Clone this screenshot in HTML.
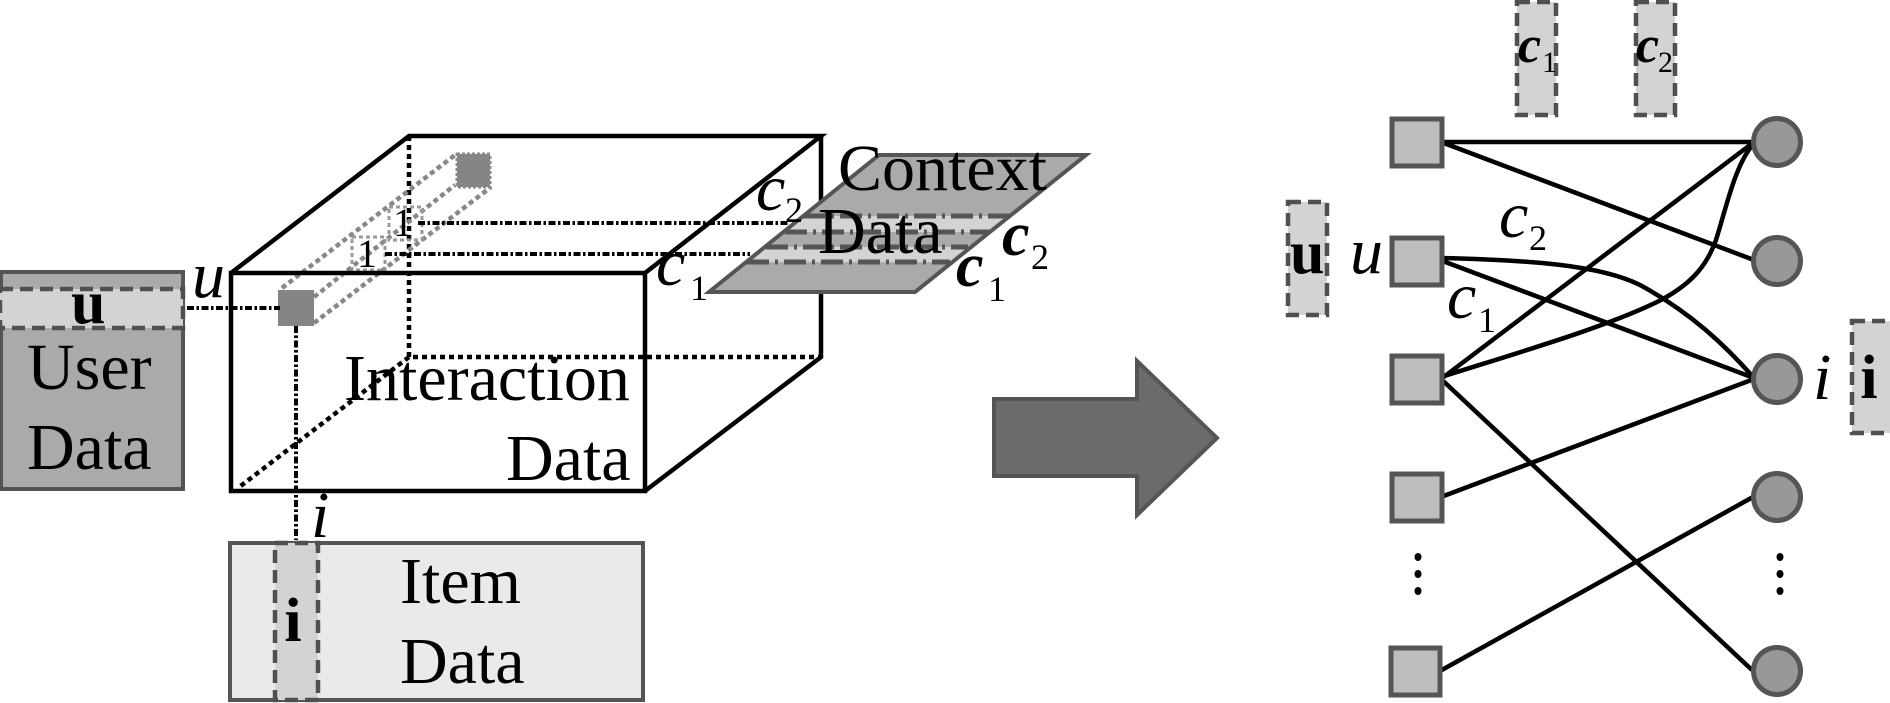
<!DOCTYPE html>
<html>
<head>
<meta charset="utf-8">
<style>
html,body{margin:0;padding:0;background:#fff;width:1890px;height:703px;overflow:hidden}
svg{display:block;filter:blur(0.3px)}
text{font-family:"Liberation Serif",serif;fill:#000}
.t{font-size:66px}
.i{font-style:italic;font-size:66px}
.s{font-size:36px}
.b{font-weight:bold;font-size:62px}
.bi{font-weight:bold;font-style:italic;font-size:62px}
.d{stroke:#505050;stroke-width:4.5;stroke-dasharray:13 7;fill:#d3d3d3}
.dd{stroke:#000;stroke-width:4;fill:none;stroke-dasharray:7 2.5 2.5 2.5}
.bd{stroke:#000;stroke-width:4.5;fill:none;stroke-dasharray:5 4}
.gd{stroke:#888;stroke-width:4.5;fill:none;stroke-dasharray:5 3.5}
.k{stroke:#000;stroke-width:4.5;fill:none}
.sq{fill:#bdbdbd;stroke:#555;stroke-width:5}
.ci{fill:#989898;stroke:#555;stroke-width:5}
</style>
</head>
<body>
<svg width="1890" height="703" viewBox="0 0 1890 703" xmlns="http://www.w3.org/2000/svg">
<!-- user data -->
<rect x="1" y="272" width="182" height="217" fill="#aaa" stroke="#555" stroke-width="4"/>
<rect x="0" y="289" width="183" height="39" class="d"/>
<text class="t" x="27" y="389">User</text>
<text class="t" x="27" y="469">Data</text>
<text class="b" x="71" y="323">u</text>
<text class="i" x="192" y="297">u</text>
<!-- cube hidden lines -->
<path class="bd" d="M409 136V357H821"/>
<path class="bd" d="M409 357L238 488"/>
<!-- dotted tube -->
<path class="gd" d="M282 288L455 155M314 297L455 185M314 323L491 187"/>
<rect x="457" y="154" width="33" height="33" fill="#858585" stroke="#888" stroke-width="3" stroke-dasharray="3 2"/>
<rect x="352" y="237" width="33" height="33" fill="none" stroke="#999" stroke-width="3" stroke-dasharray="4 3"/>
<rect x="389" y="207" width="33" height="33" fill="none" stroke="#999" stroke-width="3" stroke-dasharray="4 3"/>
<rect x="278" y="290" width="36" height="36" fill="#858585"/>
<!-- dash dot -->
<path class="dd" d="M187 308H280"/>
<path class="dd" d="M296 326V540"/>
<path class="dd" d="M418 223H790"/>
<path class="dd" d="M385 254H750"/>
<!-- cube -->
<path class="k" d="M231 273H645V491H231ZM231 273L409 136H821L645 273M821 136V357L645 491"/>
<text x="367" y="267" style="font-size:40px" text-anchor="middle">1</text>
<text x="403" y="236" style="font-size:40px" text-anchor="middle">1</text>
<text class="t" x="344" y="400">Interaction</text>
<text class="t" x="506" y="480">Data</text>
<!-- context -->
<polygon points="879,155 1086,155 915,292 709,292" fill="#aaa"/>
<polygon points="803,216 1012,216 990,232 785,232" fill="#d3d3d3"/>
<polygon points="766,247 968,247 950,262 747,262" fill="#d3d3d3"/>
<path d="M803 216H1012M785 232H990M766 247H968M747 262H950" stroke="#555" stroke-width="5" stroke-dasharray="22 6 3 6" fill="none"/>
<polygon points="879,155 1086,155 915,292 709,292" fill="none" stroke="#555" stroke-width="4"/>
<text class="t" x="838" y="190">Context</text>
<text class="t" x="818" y="253">Data</text>
<text class="i" x="756" y="210">c</text><text class="s" x="785" y="222">2</text>
<text class="i" x="656" y="285">c</text><text class="s" x="690" y="300">1</text>
<text class="bi" x="1002" y="255">c</text><text class="s" x="1031" y="269">2</text>
<text class="bi" x="956" y="286">c</text><text class="s" x="988" y="301">1</text>
<!-- item -->
<rect x="230" y="543" width="413" height="157" fill="#eaeaea" stroke="#555" stroke-width="4"/>
<rect x="275" y="543" width="43" height="157" class="d"/>
<text class="t" x="400" y="603">Item</text>
<text class="t" x="400" y="683">Data</text>
<text class="b" x="293" y="641" text-anchor="middle">i</text>
<text class="i" x="311" y="537">i</text>
<!-- arrow -->
<polygon points="994,399 1137,399 1137,361 1217,438 1137,515 1137,476 994,476" fill="#6b6b6b" stroke="#555" stroke-width="4"/>
<!-- graph edges -->
<path class="k" d="M1441 142H1754M1441 142L1754 260"/>
<path class="k" d="M1440 258C1530 260 1600 265 1640 285C1690 312 1725 345 1754 378"/>
<path class="k" d="M1440 260L1754 378"/>
<path class="k" d="M1441 379L1754 142"/>
<path class="k" d="M1441 377C1520 352 1610 326 1661 300C1695 282 1708 262 1716 240C1727 205 1735 165 1754 143"/>
<path class="k" d="M1441 379L1752 670"/>
<path class="k" d="M1441 497L1754 379"/>
<path class="k" d="M1440 671L1753 497"/>
<!-- squares -->
<rect x="1392" y="119" width="50" height="47" class="sq"/>
<rect x="1392" y="238" width="50" height="47" class="sq"/>
<rect x="1392" y="356" width="50" height="47" class="sq"/>
<rect x="1392" y="474" width="50" height="47" class="sq"/>
<rect x="1391" y="648" width="49" height="47" class="sq"/>
<!-- circles -->
<ellipse cx="1777" cy="142" rx="23.5" ry="23.5" class="ci"/>
<ellipse cx="1777" cy="261" rx="23.5" ry="23.5" class="ci"/>
<ellipse cx="1777" cy="379" rx="23.5" ry="23.5" class="ci"/>
<ellipse cx="1777" cy="497" rx="23.5" ry="23.5" class="ci"/>
<ellipse cx="1777" cy="671" rx="23.5" ry="23.5" class="ci"/>
<!-- dots -->
<g fill="#000">
<ellipse cx="1418" cy="557" rx="3.5" ry="4"/><ellipse cx="1418" cy="574" rx="3.5" ry="4"/><ellipse cx="1418" cy="591" rx="3.5" ry="4"/>
<ellipse cx="1780" cy="557" rx="3.5" ry="4"/><ellipse cx="1780" cy="574" rx="3.5" ry="4"/><ellipse cx="1780" cy="591" rx="3.5" ry="4"/>
</g>
<!-- strips -->
<rect x="1517" y="2" width="39" height="113" class="d"/>
<rect x="1636" y="2" width="39" height="113" class="d"/>
<rect x="1288" y="202" width="39" height="113" class="d"/>
<rect x="1852" y="321" width="50" height="112" class="d"/>
<text class="bi" style="font-size:52px" x="1518" y="62">c</text><text style="font-size:30px" x="1542" y="72">1</text>
<text class="bi" style="font-size:52px" x="1636" y="62">c</text><text style="font-size:30px" x="1658" y="72">2</text>
<text class="b" x="1290" y="273">u</text>
<text class="i" x="1350" y="273">u</text>
<text class="i" x="1499" y="237">c</text><text class="s" x="1529" y="250">2</text>
<text class="i" x="1447" y="318">c</text><text class="s" x="1478" y="332">1</text>
<text class="i" x="1813" y="399">i</text>
<text class="b" x="1869" y="398" text-anchor="middle">i</text>
</svg>
</body>
</html>
